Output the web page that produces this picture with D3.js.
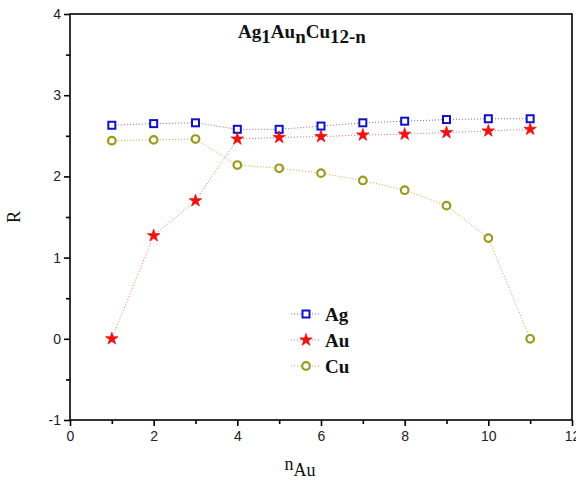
<!DOCTYPE html>
<html><head><meta charset="utf-8">
<script src="https://cdn.jsdelivr.net/npm/d3@7"></script>
<style>body{margin:0;background:#fff}svg{display:block}</style>
</head><body>
<svg id="c" width="576" height="492"></svg>
<script>
const nValues = [1,2,3,4,5,6,7,8,9,10,11];
const agValues = [2.63,2.65,2.66,2.58,2.58,2.62,2.66,2.68,2.70,2.71,2.71];
const auValues = [0,1.27,1.70,2.46,2.48,2.49,2.51,2.52,2.54,2.56,2.58];
const cuValues = [2.44,2.45,2.46,2.14,2.10,2.04,1.95,1.83,1.64,1.24,0];
const xTicks = [0,2,4,6,8,10,12];
const yTicks = [-1,0,1,2,3,4];
const seriesNames = ["Ag","Au","Cu"];

const svg = d3.select("#c");
const L=70, R=572, T=14, B=420;
const x = d3.scaleLinear().domain([0,12]).range([L,R]);
const y = d3.scaleLinear().domain([-1,4]).range([B,T]);

svg.append("rect").attr("x",L).attr("y",T).attr("width",R-L).attr("height",B-T)
  .attr("fill","none").attr("stroke","#000").attr("stroke-width",1.6);

const fmt = d => String(d);
const xAxis = svg.append("g").attr("transform",`translate(0,${B})`)
  .call(d3.axisBottom(x).tickValues(xTicks).tickSize(6).tickPadding(5).tickFormat(fmt));
const xMinor = svg.append("g").attr("transform",`translate(0,${B})`)
  .call(d3.axisBottom(x).tickValues([1,3,5,7,9,11]).tickSize(4).tickFormat(""));
const yAxis = svg.append("g").attr("transform",`translate(${L},0)`)
  .call(d3.axisLeft(y).tickValues(yTicks).tickSize(6).tickPadding(3).tickFormat(fmt));
const yMinor = svg.append("g").attr("transform",`translate(${L},0)`)
  .call(d3.axisLeft(y).tickValues([-0.5,0.5,1.5,2.5,3.5]).tickSize(4).tickFormat(""));
[xAxis,xMinor,yAxis,yMinor].forEach(g=>{
  g.select(".domain").remove();
  g.selectAll("line").attr("stroke","#000").attr("stroke-width",1.6);
  g.selectAll("text").attr("font-family","Liberation Sans, Arial, sans-serif").attr("font-size",14).attr("fill","#222");
});

const colors = {Ag:"#1010c8", Au:"#f01010", Cu:"#9c9a1c"};
const lineColors = {Ag:"#6a6ad8", Au:"#f07070", Cu:"#b0ae50"};
const data = {Ag:agValues, Au:auValues, Cu:cuValues};
const line = d3.line().x((d,i)=>x(nValues[i])).y(d=>y(d));

const star = d3.symbol().type(d3.symbolStar).size(48);
function marker(g, name){
  if(name==="Ag") g.append("rect").attr("x",-3.5).attr("y",-3.5).attr("width",7).attr("height",7)
      .attr("fill","#fff").attr("stroke",colors.Ag).attr("stroke-width",2);
  else if(name==="Au") g.append("path").attr("d",star()).attr("fill",colors.Au).attr("stroke",colors.Au).attr("stroke-width",0.8);
  else g.append("circle").attr("r",3.8).attr("fill","#fff").attr("stroke",colors.Cu).attr("stroke-width",2.2);
}

seriesNames.forEach(name=>{
  svg.append("path").datum(data[name]).attr("d",line).attr("fill","none")
    .attr("stroke",lineColors[name]).attr("stroke-width",1).attr("stroke-dasharray","1,2");
});
seriesNames.forEach(name=>{
  data[name].forEach((v,i)=>{
    const g = svg.append("g").attr("transform",`translate(${x(nValues[i])},${y(v)})`);
    marker(g,name);
  });
});

seriesNames.forEach((name,i)=>{
  const ly = 314 + i*26;
  svg.append("line").attr("x1",291).attr("x2",320).attr("y1",ly).attr("y2",ly)
    .attr("stroke",lineColors[name]).attr("stroke-width",1).attr("stroke-dasharray","1,2");
  marker(svg.append("g").attr("transform",`translate(306,${ly})`), name);
  svg.append("text").attr("x",325).attr("y",ly+7).text(name)
    .attr("font-family","Liberation Serif, Times New Roman, serif").attr("font-weight","bold")
    .attr("font-size",19).attr("fill","#111");
});

const title = svg.append("text").attr("x",302).attr("y",38).attr("text-anchor","middle")
  .attr("font-family","Liberation Serif, Times New Roman, serif").attr("font-weight","bold")
  .attr("font-size",19).attr("fill","#111");
title.append("tspan").text("Ag");
title.append("tspan").text("1").attr("dy",5);
title.append("tspan").text("Au").attr("dy",-5);
title.append("tspan").text("n").attr("dy",5);
title.append("tspan").text("Cu").attr("dy",-5);
title.append("tspan").text("12-n").attr("dy",5);

svg.append("text").attr("transform","translate(20,217) rotate(-90)").attr("text-anchor","middle")
  .attr("font-family","Liberation Serif, Times New Roman, serif").attr("font-size",18).attr("fill","#111").text("R");
const xt = svg.append("text").attr("x",300).attr("y",470).attr("text-anchor","middle")
  .attr("font-family","Liberation Serif, Times New Roman, serif").attr("font-size",18).attr("fill","#111");
xt.append("tspan").text("n");
xt.append("tspan").text("Au").attr("dy",6);
</script>
</body></html>
